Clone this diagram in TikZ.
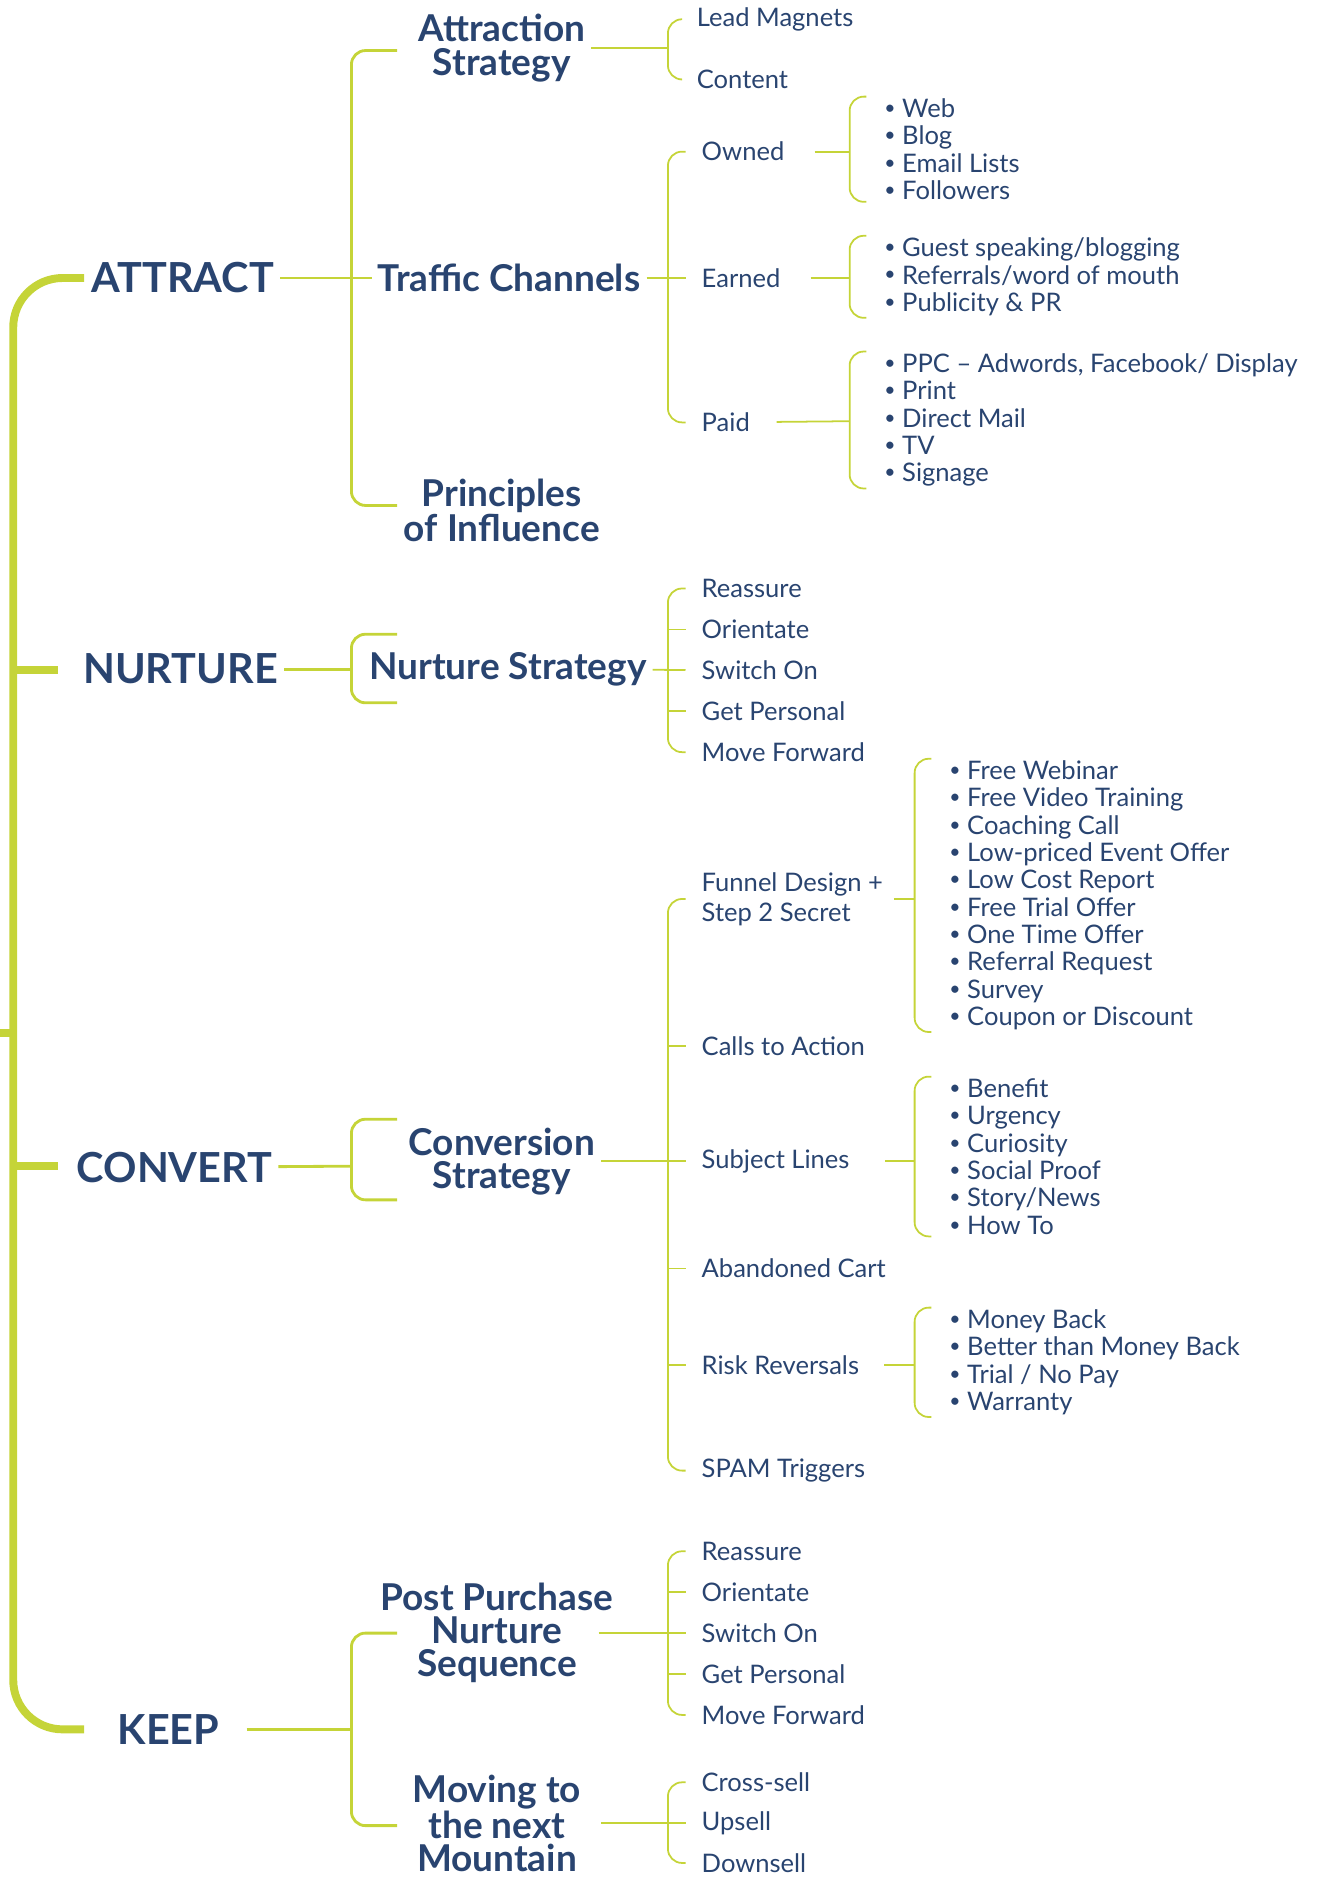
\documentclass[tikz,border=0pt]{standalone}
\usepackage{fontspec}
\setmainfont{Lato}
\usepackage{tikz}
\definecolor{brandblue}{RGB}{41,68,112}
\definecolor{brandgreen}{RGB}{197,212,56}
\newcommand{\dotitem}{\raisebox{0.12em}{\fontsize{11}{11}\selectfont\textbullet}\ }

\begin{document}
\begin{tikzpicture}[x=0.024cm,y=-0.024cm,
    stage/.style={text=brandblue,font=\fontsize{23.5}{25}\selectfont\bfseries},
    part/.style={text=brandblue,align=center,font=\fontsize{21}{18.8}\selectfont\bfseries},
    item/.style={text=brandblue,anchor=west,align=left,inner xsep=6pt,font=\fontsize{14.5}{15.5}\selectfont},
    bullets/.style={item,inner xsep=10pt,inner ysep=1pt},
    trunk/.style={draw=brandgreen,line width=4.5pt,rounded corners=28pt},
    bough/.style={draw=brandgreen,line width=1.6pt,rounded corners=8pt},
    twig/.style={draw=brandgreen,line width=1pt,rounded corners=8pt}]
      \useasboundingbox (0,0) rectangle (1097,1568);

      \node[stage] (attract) at (152,231) {ATTRACT};
      \node[stage] (nurture) at (150,556) {NURTURE};
      \node[stage] (convert) at (145,970) {CONVERT};
      \node[stage] (keep) at (140,1437) {KEEP};

      \coordinate (spine) at (11,858);
      \coordinate (stub) at (0,858);
      \coordinate (t1) at (70,231);
      \coordinate (t2) at (70,1437);
      \coordinate (t3) at (48,557);
      \coordinate (t4) at (48,969);
      \draw[trunk] (t1) -| (spine) |- (t2);
      \draw[trunk] (spine |- t3) -- (t3);
      \draw[trunk] (spine |- t4) -- (t4);
      \draw[trunk] (spine) -- (stub);

      \node[part] (attr) at (417,40) {Attraction\\Strategy};
      \node[part] (traffic) at (423,231) {Traffic Channels};
      \node[part] (princ) at (417,424) {Principles\\of Influence};
      \node[part] (nstrat) at (422,556) {Nurture Strategy};
      \node[part] (cstrat) at (417,965) {Conversion\\Strategy};
      \node[part] (post) at (413,1357) {Post Purchase\\Nurture\\Sequence};
      \node[part] (moving) at (413,1515) {Moving to\\the next\\Mountain};

      \coordinate (ab) at (292,231);
      \coordinate (ab1) at (330,42);
      \coordinate (ab2) at (330,420);
      \draw[bough] (ab1) -| (ab) |- (ab2);
      \draw[bough] (attract) -- (traffic);

      \coordinate (nb) at (292,556);
      \coordinate (nb1) at (330,527);
      \coordinate (nb2) at (330,584);
      \draw[bough] (nb1) -| (nb) |- (nb2);
      \draw[bough] (nurture) -- (nb);

      \coordinate (cb) at (292,969);
      \coordinate (cb1) at (330,930);
      \coordinate (cb2) at (330,997);
      \draw[bough] (cb1) -| (cb) |- (cb2);
      \draw[bough] (convert) -- (cb);

      \coordinate (kb) at (292,1437);
      \coordinate (kb1) at (330,1357);
      \coordinate (kb2) at (330,1517);
      \draw[bough] (kb1) -| (kb) |- (kb2);
      \draw[bough,shorten <=12pt] (keep) -- (kb);

      \node[item] (lm) at (570,16) {Lead Magnets};
      \node[item] (ct) at (570,66) {Content};
      \coordinate (asb) at (555,40);
      \draw[twig] (attr) -- (asb);
      \draw[twig,shorten <=3pt,shorten >=3pt] (lm.west) -| (asb) |- (ct.west);

      \node[item] (owned) at (574,126) {Owned};
      \node[item] (earned) at (574,231) {Earned};
      \node[item] (paid) at (574,351) {Paid};
      \coordinate (tsb) at (555,231);
      \draw[twig,shorten <=3pt,shorten >=3pt] (owned.west) -| (tsb) |- (paid.west);
      \draw[twig,shorten >=3pt] (traffic) -- (earned);

      \node[bullets] (owl) at (720,124) {\dotitem Web\\\dotitem Blog\\\dotitem Email Lists\\\dotitem Followers};
      \node[bullets] (eal) at (720,230) {\dotitem Guest speaking/blogging\\\dotitem Referrals/word of mouth\\\dotitem Publicity \& PR};
      \node[bullets] (pal) at (720,349) {\dotitem PPC – Adwords, Facebook/ Display\\\dotitem Print\\\dotitem Direct Mail\\\dotitem TV\\\dotitem Signage};
      \coordinate (ob) at (706,126);
      \coordinate (eb) at (706,231);
      \coordinate (pb) at (706,350);
      \draw[twig,shorten <=11pt] (owned) -- (ob);
      \draw[twig,shorten <=11pt] (earned) -- (eb);
      \draw[twig,shorten <=9pt] (paid) -- (pb);
      \draw[twig] (owl.north west) -| (ob) |- (owl.south west);
      \draw[twig] (eal.north west) -| (eb) |- (eal.south west);
      \draw[twig] (pal.north west) -| (pb) |- (pal.south west);

      \node[item] (n1) at (574,489) {Reassure};
      \node[item] (n2) at (574,523) {Orientate};
      \node[item] (n3) at (574,557) {Switch On};
      \node[item] (n4) at (574,591) {Get Personal};
      \node[item] (n5) at (574,625) {Move Forward};
      \coordinate (nsb) at (555,556);
      \draw[twig,shorten >=3pt] (nstrat) -- (n3);
      \draw[twig,shorten <=3pt,shorten >=3pt] (n1.west) -| (nsb) |- (n5.west);
      \draw[twig,shorten >=3pt] (n2.west -| nsb) -- (n2.west);
      \draw[twig,shorten >=3pt] (n4.west -| nsb) -- (n4.west);

      \node[item,font=\fontsize{14.5}{17}\selectfont] (funnel) at (574,747) {Funnel Design +\\Step 2 Secret};
      \node[item] (cta) at (574,869) {Calls to Action};
      \node[item] (subj) at (574,965) {Subject Lines};
      \node[item] (cart) at (574,1054) {Abandoned Cart};
      \node[item] (risk) at (574,1134) {Risk Reversals};
      \node[item] (spam) at (574,1222) {SPAM Triggers};
      \coordinate (csb) at (555,965);
      \draw[twig,shorten >=3pt] (cstrat) -- (subj);
      \draw[twig,shorten <=3pt,shorten >=3pt] (funnel.west) -| (csb) |- (spam.west);
      \draw[twig,shorten >=3pt] (cta.west -| csb) -- (cta.west);
      \draw[twig,shorten >=3pt] (cart.west -| csb) -- (cart.west);
      \draw[twig,shorten >=3pt] (risk.west -| csb) -- (risk.west);

      \node[bullets] (fdl) at (774,744) {\dotitem Free Webinar\\\dotitem Free Video Training\\\dotitem Coaching Call\\\dotitem Low-priced Event Offer\\\dotitem Low Cost Report\\\dotitem Free Trial Offer\\\dotitem One Time Offer\\\dotitem Referral Request\\\dotitem Survey\\\dotitem Coupon or Discount};
      \node[bullets] (sll) at (774,961) {\dotitem Benefit\\\dotitem Urgency\\\dotitem Curiosity\\\dotitem Social Proof\\\dotitem Story/News\\\dotitem How To};
      \node[bullets] (rrl) at (774,1132) {\dotitem Money Back\\\dotitem Better than Money Back\\\dotitem Trial / No Pay\\\dotitem Warranty};
      \coordinate (fb) at (760,747);
      \coordinate (sb) at (760,965);
      \coordinate (rb) at (760,1134);
      \draw[twig] (funnel) -- (fb);
      \draw[twig,shorten <=14pt] (subj) -- (sb);
      \draw[twig,shorten <=8pt] (risk) -- (rb);
      \draw[twig] (fdl.north west) -| (fb) |- (fdl.south west);
      \draw[twig] (sll.north west) -| (sb) |- (sll.south west);
      \draw[twig] (rrl.north west) -| (rb) |- (rrl.south west);

      \node[item] (p1) at (574,1289) {Reassure};
      \node[item] (p2) at (574,1323) {Orientate};
      \node[item] (p3) at (574,1357) {Switch On};
      \node[item] (p4) at (574,1391) {Get Personal};
      \node[item] (p5) at (574,1425) {Move Forward};
      \coordinate (psb) at (555,1357);
      \draw[twig,shorten >=3pt] ([xshift=-12pt]post.east) -- (p3);
      \draw[twig,shorten <=3pt,shorten >=3pt] (p1.west) -| (psb) |- (p5.west);
      \draw[twig,shorten >=3pt] (p2.west -| psb) -- (p2.west);
      \draw[twig,shorten >=3pt] (p4.west -| psb) -- (p4.west);

      \node[item] (m1) at (574,1481) {Cross-sell};
      \node[item] (m2) at (574,1515) {Upsell};
      \node[item] (m3) at (574,1548) {Downsell};
      \coordinate (msb) at (555,1515);
      \draw[twig,shorten <=8pt,shorten >=3pt] (moving) -- (m2);
      \draw[twig,shorten <=3pt,shorten >=3pt] (m1.west) -| (msb) |- (m3.west);
    \end{tikzpicture}
\end{document}
